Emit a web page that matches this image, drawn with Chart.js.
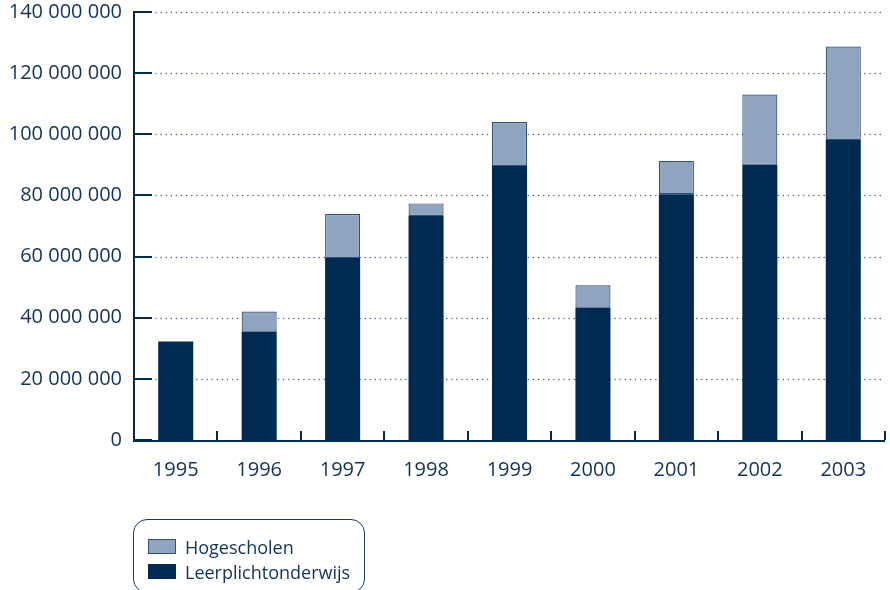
<!DOCTYPE html>
<html>
<head>
<meta charset="utf-8">
<script src="https://cdn.jsdelivr.net/npm/chart.js@4/dist/chart.umd.min.js"></script>
<style>
  html, body { margin: 0; padding: 0; background: #fff; overflow: hidden; }
  #wrap { position: relative; width: 890px; height: 590px; }
  #legend {
    position: absolute; left: 133px; top: 519px; width: 232px; height: 74px;
    border: 1.5px solid #1b3a5e; border-radius: 14px; box-sizing: border-box;
    font-family: 'Open Sans', sans-serif; font-size: 18px; color: #12325a;
    padding-top: 14px;
  }
  .item { display: flex; align-items: center; height: 25px; padding-left: 14px; }
  .sw { width: 28px; height: 15px; margin-right: 9px; box-sizing: border-box; }
</style>
</head>
<body>
<div id="wrap">
  <canvas id="c" width="890" height="590"></canvas>
  <div id="legend"></div>
</div>
<script>
// jaartallen en bedragen (in euro)
const years = ['1995', '1996', '1997', '1998', '1999', '2000', '2001', '2002', '2003'];
const leerplicht = [32200000, 35400000, 59500000, 73300000, 89600000, 43300000, 80400000, 90000000, 98100000];
const hogescholen = [0, 6600000, 14400000, 4100000, 14400000, 7300000, 10900000, 23000000, 30600000];
const yTicks = [0, 20000000, 40000000, 60000000, 80000000, 100000000, 120000000, 140000000];

const navy = '#012a52';
const light = '#8fa4bf';
const textColor = '#12325a';

const fmt = v => String(v).replace(/\B(?=(\d{3})+(?!\d))/g, ' ');

// eigen assen: korte streepjes naar binnen en stippellijnen
const axisPlugin = {
  id: 'axisLines',
  beforeDatasetsDraw(chart) {
    const { ctx, chartArea: a, scales: { y } } = chart;
    ctx.save();
    y.ticks.forEach(t => {
      const py = Math.round(y.getPixelForValue(t.value)) + 0.5;
      if (t.value > 0) {
        ctx.strokeStyle = '#4c6689';
        ctx.lineWidth = 1.5;
        ctx.lineCap = 'round';
        ctx.setLineDash([0.1, 5]);
        ctx.beginPath();
        ctx.moveTo(a.left + 22, py);
        ctx.lineTo(a.right, py);
        ctx.stroke();
      }
    });
    ctx.restore();
  },
  afterDatasetsDraw(chart) {
    const { ctx, chartArea: a, scales: { x, y } } = chart;
    ctx.save();
    ctx.strokeStyle = navy;
    ctx.lineWidth = 2;
    ctx.setLineDash([]);
    y.ticks.forEach(t => {
      const py = Math.round(y.getPixelForValue(t.value));
      ctx.beginPath();
      ctx.moveTo(a.left, py);
      ctx.lineTo(a.left + 18, py);
      ctx.stroke();
    });
    // y-as en x-as
    ctx.beginPath();
    ctx.moveTo(a.left, a.top - 1);
    ctx.lineTo(a.left, a.bottom + 1);
    ctx.lineTo(a.right, a.bottom + 1);
    ctx.stroke();
    // streepjes tussen de jaren
    const step = a.width / years.length;
    for (let i = 1; i <= years.length; i++) {
      const px = Math.round(x.getPixelForValue(i - 1) + step / 2);
      ctx.beginPath();
      ctx.moveTo(px, a.bottom);
      ctx.lineTo(px, a.bottom - 9);
      ctx.stroke();
    }
    ctx.restore();
  }
};

const chart = new Chart(document.getElementById('c'), {
  type: 'bar',
  data: {
    labels: years,
    datasets: [{
      label: 'Leerplichtonderwijs',
      data: leerplicht,
      backgroundColor: navy,
      borderWidth: 0
    }, {
      label: 'Hogescholen',
      data: hogescholen,
      backgroundColor: light,
      borderColor: '#2f5079',
      borderWidth: 1.2,
      borderSkipped: false
    }]
  },
  options: {
    responsive: false,
    animation: false,
    layout: { padding: { top: 12, right: 5, left: 0, bottom: 0 } },
    datasets: { bar: { barPercentage: 0.42, categoryPercentage: 1 } },
    plugins: { legend: { display: false }, tooltip: { enabled: false } },
    scales: {
      x: {
        stacked: true,
        grid: { display: false, drawTicks: false },
        border: { display: false },
        ticks: { color: textColor, padding: 18, font: { family: 'Open Sans', size: 20 } },
        afterFit(s) { s.height = 150; s.paddingLeft = 0; s.paddingRight = 0; }
      },
      y: {
        stacked: true,
        min: 0,
        max: 140000000,
        afterBuildTicks(s) { s.ticks = yTicks.map(v => ({ value: v })); },
        grid: { display: false, drawTicks: false },
        border: { display: false },
        ticks: {
          color: textColor, padding: 12,
          font: { family: 'Open Sans', size: 20 },
          callback: v => fmt(v)
        },
        afterFit(s) { s.width = 134; s.paddingTop = 0; s.paddingBottom = 0; }
      }
    }
  },
  plugins: [axisPlugin]
});

// legenda als html, kleuren uit de datasets
const legend = document.getElementById('legend');
chart.data.datasets.slice().reverse().forEach(ds => {
  const row = document.createElement('div');
  row.className = 'item';
  const sw = document.createElement('span');
  sw.className = 'sw';
  sw.style.background = ds.backgroundColor;
  sw.style.border = '1px solid ' + (ds.borderColor || ds.backgroundColor);
  row.appendChild(sw);
  row.appendChild(document.createTextNode(ds.label));
  legend.appendChild(row);
});
</script>
</body>
</html>
